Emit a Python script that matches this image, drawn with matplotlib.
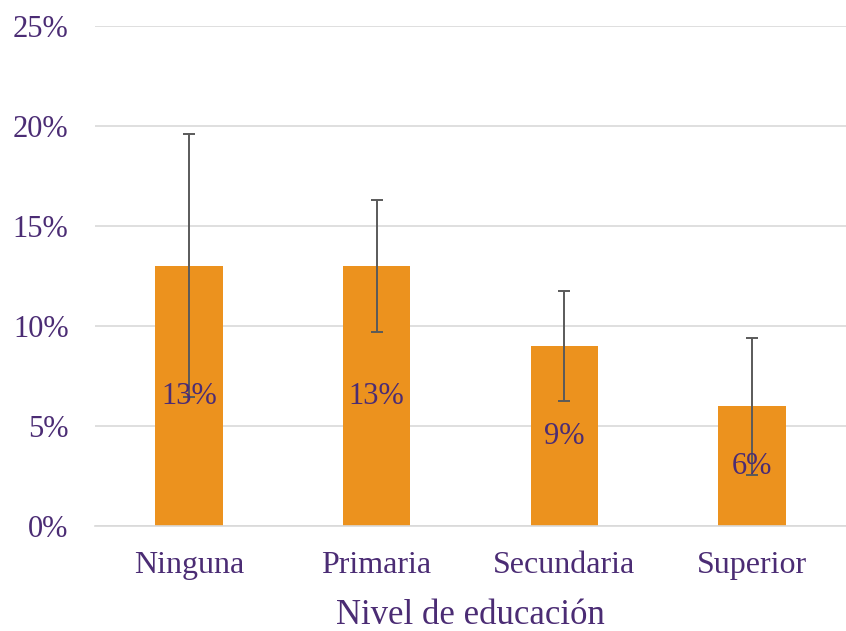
import matplotlib
matplotlib.use('Agg')
import matplotlib.pyplot as plt
import numpy as np

categories = ['Ninguna', 'Primaria', 'Secundaria', 'Superior']
values = [13, 13, 9, 6]
err_low = [6.45, 9.7, 6.25, 2.55]
err_high = [19.6, 16.3, 11.75, 9.4]
labels = ['13%', '13%', '9%', '6%']

purple = '#4B2C74'
orange = '#EC921E'

plt.rcParams['font.family'] = ['Liberation Serif', 'DejaVu Serif']

fig = plt.figure(figsize=(8.46, 6.31), dpi=100)
ax = fig.add_axes([95 / 846, 1 - 526 / 631, (846 - 95) / 846, 500 / 631])

x = np.arange(len(categories))
vals = np.array(values)
yerr = np.array([vals - np.array(err_low), np.array(err_high) - vals])
ax.bar(x, vals, width=0.36, color=orange, zorder=2)
ax.errorbar(x, vals, yerr=yerr, fmt='none', ecolor='#5a5a5a', elinewidth=1.4,
            capsize=4.5, capthick=1.4, zorder=3)

for xi, v, lab in zip(x, vals, labels):
    ax.text(xi, v / 2, lab, ha='center', va='center', color=purple, fontsize=22, zorder=4)

ax.set_xlim(-0.5, 3.5)
ax.set_ylim(0, 25)
ax.set_yticks([0, 5, 10, 15, 20, 25])
ax.set_yticklabels(['0%', '5%', '10%', '15%', '20%', '25%'])
ax.set_xticks(x)
ax.set_xticklabels(categories)
ax.tick_params(axis='both', length=0, colors=purple)
ax.tick_params(axis='y', pad=19, labelsize=22)
ax.tick_params(axis='x', pad=18, labelsize=23)
ax.grid(axis='y', color='#d9d9d9', linewidth=1.2, zorder=0)
for s in ['top', 'right', 'left']:
    ax.spines[s].set_visible(False)
ax.spines['bottom'].set_color('#d9d9d9')
ax.spines['bottom'].set_linewidth(1.2)
ax.set_xlabel('Nivel de educación', color=purple, fontsize=25, labelpad=14)

fig.savefig('out.png', dpi=100, facecolor='white')
